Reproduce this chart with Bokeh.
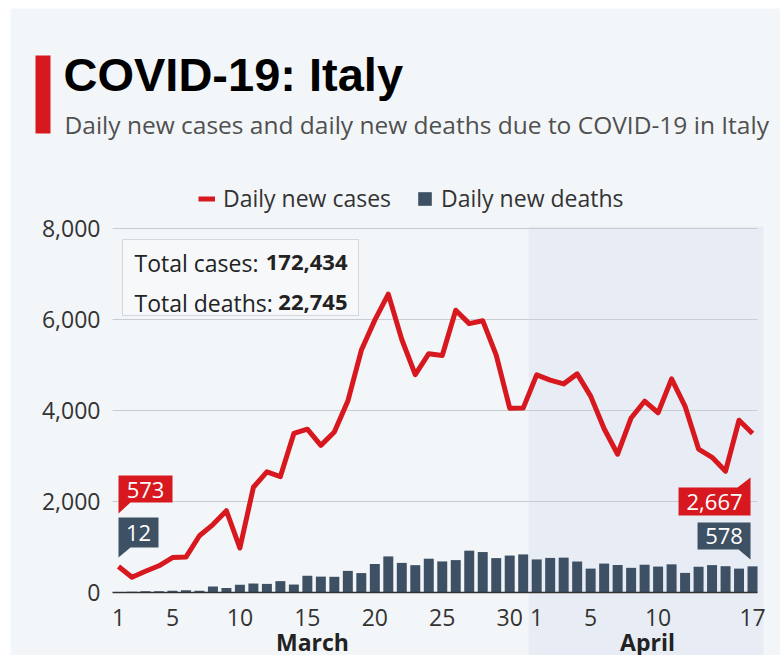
from bokeh.plotting import figure
from bokeh.models import (Range1d, FixedTicker, NumeralTickFormatter, BoxAnnotation,
                          Label, Legend, LegendItem, LinearAxis, Grid, ColumnDataSource)
from bokeh.core.properties import value
from bokeh.embed import file_html
from bokeh.resources import INLINE

# ---------------- data ----------------
march_days = list(range(1, 32))
april_days = list(range(1, 18))
daily_cases = [573, 335, 466, 587, 769, 778, 1247, 1492, 1797, 977,
               2313, 2651, 2547, 3497, 3590, 3233, 3526, 4207, 5322, 5986,
               6557, 5560, 4789, 5249, 5210, 6203, 5909, 5974, 5217, 4050,
               4053,
               4782, 4668, 4585, 4805, 4316, 3599, 3039, 3836, 4204, 3951,
               4694, 4092, 3153, 2972, 2667, 3786, 3493]
daily_deaths = [5, 18, 27, 28, 41, 49, 36, 133, 97, 168,
                196, 189, 250, 175, 368, 349, 345, 475, 427, 627,
                793, 651, 601, 743, 683, 712, 919, 889, 756, 812,
                837,
                727, 760, 766, 681, 525, 636, 604, 542, 610, 570,
                619, 431, 566, 602, 578, 525, 575]
x_tick_days = ["1", "5", "10", "15", "20", "25", "30", "1", "5", "10", "17"]
x_tick_index = [0, 4, 9, 14, 19, 24, 29, 31, 35, 40, 47]
y_ticks = [0, 2000, 4000, 6000, 8000]
month_names = ["March", "April"]
callout_texts = ["573", "12", "2,667", "578"]
total_cases_text = "172,434"
total_deaths_text = "22,745"

idx = list(range(len(daily_cases)))

# ---------------- style / layout ----------------
BG = "#F3F6F9"
SHADE = "#E8EDF5"
RED = "#D7191F"
DARK = "#3E5064"
GRID = "#C8CDD2"
TXT = "#333333"
FONT = "Open Sans"

W, H = 780, 655
PL, PR = 112, 757               # plot area (gridlines) left/right in pixels
X0, DXP = 118.0, 13.49          # pixel of first day, pixels per day
Y0, DYP = 592.0, 364.0 / 8000   # pixel of zero, pixels per case


def dx(px):
    return (px - X0) / DXP


def dy(py):
    return (Y0 - py) / DYP


p = figure(width=W, height=H, output_backend="svg", toolbar_location=None,
           x_range=Range1d(dx(0), dx(W)), y_range=Range1d(dy(H), dy(0)),
           min_border=0, background_fill_color="white", border_fill_color="white",
           outline_line_color=None, x_axis_location=None, y_axis_location=None)
for r in list(p.center):
    if isinstance(r, Grid):
        p.center.remove(r)

# page background panel
p.add_layout(BoxAnnotation(left=dx(10), top=dy(8), fill_color=BG,
                           fill_alpha=1, line_color=None, level="underlay"))
# April shading
p.add_layout(BoxAnnotation(left=30.4, right=dx(763), top=dy(226), fill_color=SHADE,
                           fill_alpha=1, line_color=None, level="underlay"))

# horizontal grid lines at the y ticks
grid_y = y_ticks[1:]
p.segment(x0=[dx(PL)] * len(grid_y), x1=[dx(PR)] * len(grid_y), y0=grid_y, y1=grid_y,
          line_color=GRID, line_width=1)

# y axis
yax = LinearAxis(ticker=FixedTicker(ticks=y_ticks),
                 formatter=NumeralTickFormatter(format="0,0"), fixed_location=dx(PL),
                 axis_line_color=None, major_tick_line_color=None,
                 minor_tick_line_color=None, major_label_standoff=6,
                 major_label_text_font=FONT, major_label_text_font_size="23px",
                 major_label_text_color=TXT)
p.add_layout(yax, "left")

# bars and line
src = ColumnDataSource(dict(x=idx, cases=daily_cases, deaths=daily_deaths))
bars = p.vbar(x="x", top="deaths", width=0.74, source=src,
              fill_color=DARK, line_color=None)
line = p.line(x="x", y="cases", source=src, line_color=RED, line_width=5,
              line_join="round")

# x baseline + x axis
p.segment(x0=[dx(PL)], x1=[dx(PR)], y0=[0], y1=[0], line_color="#333333", line_width=1.5)
xax = LinearAxis(ticker=FixedTicker(ticks=x_tick_index),
                 major_label_overrides={i: t for i, t in zip(x_tick_index, x_tick_days)},
                 fixed_location=0, axis_line_color=None,
                 major_tick_line_color=None, minor_tick_line_color=None,
                 major_label_standoff=10, major_label_text_font=FONT,
                 major_label_text_font_size="23px", major_label_text_color=TXT)
p.add_layout(xax, "below")

# month labels
for name, cx in zip(month_names, [312, 647]):
    p.add_layout(Label(x=dx(cx), y=dy(641), text=name, text_align="center",
                       text_baseline="middle", text_font=FONT, text_font_style="bold",
                       text_font_size="23px", text_color="#222222"))

# callouts (box + tail polygons, pixel offsets from the first / last day)
first, last = 0, len(idx) - 1
ax0 = X0 + first * DXP
ax1 = X0 + last * DXP - 2
shapes = [
    [(ax0, 475), (ax0 + 54, 475), (ax0 + 54, 502), (ax0 + 12, 502), (ax0, 513)],
    [(ax0, 517), (ax0 + 40, 517), (ax0 + 40, 547), (ax0 + 12, 547), (ax0, 557)],
    [(ax1 - 72, 487), (ax1 - 13, 487), (ax1, 477), (ax1, 515), (ax1 - 72, 515)],
    [(ax1 - 53, 522), (ax1, 522), (ax1, 559), (ax1 - 12, 549), (ax1 - 53, 549)],
]
colors = [RED, DARK, RED, DARK]
p.patches(xs=[[dx(a) for a, b in s] for s in shapes],
          ys=[[dy(b) for a, b in s] for s in shapes],
          fill_color=colors, line_color=None)
centers = [(ax0 + 27, 489), (ax0 + 20, 532), (ax1 - 36, 501), (ax1 - 26.5, 535.5)]
p.text(x=[dx(c[0]) for c in centers], y=[dy(c[1]) for c in centers],
       text=callout_texts, text_color="white", text_align="center",
       text_baseline="middle", text_font=value(FONT), text_font_size="22px")

# totals box
p.add_layout(BoxAnnotation(left=dx(122), right=dx(358), top=dy(239), bottom=dy(315),
                           fill_color="#F6F8FA", fill_alpha=1,
                           line_color="#8C9096", line_width=1))
for lab, num, cy in [("Total cases:", total_cases_text, 262),
                     ("Total deaths:", total_deaths_text, 302)]:
    p.add_layout(Label(x=dx(134), y=dy(cy), text=lab, text_baseline="middle",
                       text_font=FONT, text_font_size="23px", text_color="#222222"))
    p.add_layout(Label(x=dx(347), y=dy(cy), text=num, text_baseline="middle",
                       text_align="right", text_font=FONT, text_font_style="bold",
                       text_font_size="22px", text_color="#222222"))

# legend
legend = Legend(items=[LegendItem(label="Daily new cases", renderers=[line]),
                       LegendItem(label="Daily new deaths", renderers=[bars])],
                orientation="horizontal", location=(198, 441), glyph_width=17,
                glyph_height=17, label_standoff=8, spacing=25, padding=0, margin=0,
                border_line_color=None, background_fill_alpha=0,
                label_text_font=FONT, label_text_font_size="23px",
                label_text_color=TXT)
p.add_layout(legend, "center")

# title block
p.add_layout(BoxAnnotation(left=dx(35), right=dx(50), top=dy(55), bottom=dy(133),
                           fill_color=RED, fill_alpha=1, line_color=None))
p.add_layout(Label(x=dx(63), y=dy(100), text="COVID-19: Italy",
                   text_font="Liberation Sans", text_font_style="bold",
                   text_font_size="47px", text_color="#000000"))
p.add_layout(Label(x=dx(64), y=dy(140),
                   text="Daily new cases and daily new deaths due to COVID-19 in Italy",
                   text_font=FONT, text_font_size="24.5px", text_color="#505050"))

open("out.html", "w").write(file_html(p, INLINE))
